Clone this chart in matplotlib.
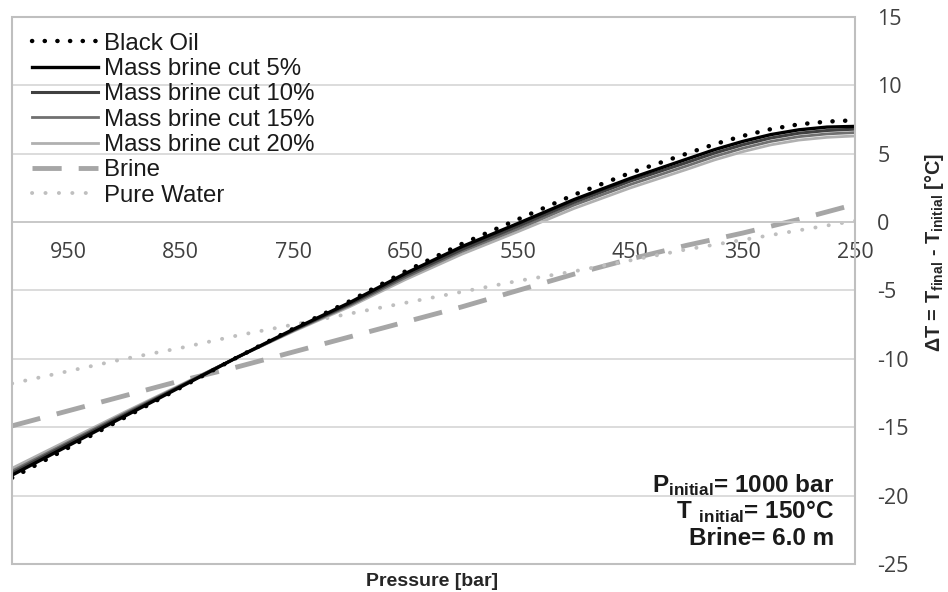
import matplotlib
matplotlib.use("Agg")
import matplotlib.pyplot as plt
from matplotlib.patches import Rectangle

plt.rcParams['font.family'] = ['Liberation Sans', 'DejaVu Sans']
plt.rcParams['mathtext.fontset'] = 'custom'
plt.rcParams['mathtext.rm'] = 'Liberation Sans'
plt.rcParams['mathtext.bf'] = 'Liberation Sans:bold'
plt.rcParams['axes.unicode_minus'] = False

# presión [bar] y ΔT [°C] para cada caso
presion = [1000, 950, 900, 850, 800, 750, 700, 650, 600, 550, 500, 450, 400, 375, 350, 325, 300, 275, 250]
black_oil = [-18.7, -16.5, -14.3, -12.1, -9.9, -7.8, -5.8, -3.6, -1.6, 0.2, 2.0, 3.6, 5.0, 5.7, 6.3, 6.8, 7.15, 7.35, 7.45]
corte_5 = [-18.5, -16.35, -14.2, -12.05, -9.9, -7.85, -5.9, -3.75, -1.8, -0.1, 1.65, 3.2, 4.6, 5.3, 5.9, 6.4, 6.75, 6.95, 7.0]
corte_10 = [-18.35, -16.2, -14.1, -12.0, -9.9, -7.9, -6.0, -3.9, -2.0, -0.3, 1.45, 3.0, 4.35, 5.05, 5.65, 6.15, 6.5, 6.7, 6.8]
corte_15 = [-18.2, -16.1, -14.0, -11.95, -9.9, -7.95, -6.1, -4.05, -2.15, -0.5, 1.25, 2.75, 4.1, 4.8, 5.4, 5.9, 6.25, 6.45, 6.55]
corte_20 = [-18.0, -15.95, -13.9, -11.9, -9.9, -8.0, -6.2, -4.2, -2.35, -0.7, 1.0, 2.5, 3.85, 4.55, 5.15, 5.65, 6.0, 6.2, 6.3]
salmuera = [-14.9, -13.8, -12.7, -11.6, -10.6, -9.5, -8.4, -7.3, -6.2, -5.0, -3.8, -2.7, -1.7, -1.25, -0.8, -0.3, 0.2, 0.75, 1.3]
agua_pura = [-11.8, -10.9, -10.0, -9.2, -8.3, -7.5, -6.7, -5.9, -5.1, -4.3, -3.6, -2.8, -2.0, -1.65, -1.3, -0.95, -0.6, -0.25, 0.1]

ticks_x = [950, 850, 750, 650, 550, 450, 350, 250]
ticks_y = [15, 10, 5, 0, -5, -10, -15, -20, -25]

fig = plt.figure(figsize=(9.48, 5.92), dpi=100)
ax = fig.add_axes([0.0127, 0.0473, 0.8893, 0.924])

gris_borde = '#bfbfbf'
for y in ticks_y:
    ax.axhline(y, color='#d9d9d9', lw=1.3, zorder=0)

ax.plot(presion, black_oil, color='black', lw=3.2, linestyle=(0, (0.05, 2.8)),
        dash_capstyle='round', label='Black Oil', zorder=6)
ax.plot(presion, corte_5, color='black', lw=2.4, label='Mass brine cut 5%', zorder=5)
ax.plot(presion, corte_10, color='#404040', lw=2.2, label='Mass brine cut 10%', zorder=4)
ax.plot(presion, corte_15, color='#707070', lw=2.0, label='Mass brine cut 15%', zorder=3)
ax.plot(presion, corte_20, color='#b0b0b0', lw=2.0, label='Mass brine cut 20%', zorder=2)
ax.plot(presion, salmuera, color='#a6a6a6', lw=3.5, linestyle=(0, (6, 3.5)),
        label='Brine', zorder=2)
ax.plot(presion, agua_pura, color='#bfbfbf', lw=2.8, linestyle=(0, (0.05, 3.4)),
        dash_capstyle='round', label='Pure Water', zorder=2)

ax.set_xlim(1000, 250)
ax.set_ylim(-25, 15)

# eje x cruzando en 0, marco completo del area de graficado
for lado in ['top', 'left', 'right']:
    ax.spines[lado].set_visible(False)
ax.spines['bottom'].set_position(('data', 0))
ax.spines['bottom'].set_color('#c8c8c8')
ax.spines['bottom'].set_linewidth(1.3)
ax.add_patch(Rectangle((0, 0), 1, 1, transform=ax.transAxes, fill=False,
                       edgecolor=gris_borde, lw=1.5, zorder=7, clip_on=False))

ax.set_xticks(ticks_x)
ax.set_xticklabels([str(t) for t in ticks_x])
ax.tick_params(axis='x', length=0, pad=14, labelsize=15.5, labelcolor='#404040')
for t in ax.get_xticklabels():
    t.set_fontfamily('Open Sans')

ax.yaxis.tick_right()
ax.set_yticks(ticks_y)
ax.set_yticklabels([str(t) for t in ticks_y])
ax.tick_params(axis='y', length=0, pad=16, labelsize=15.5, labelcolor='#404040')
for t in ax.get_yticklabels():
    t.set_fontfamily('Open Sans')
    t.set_horizontalalignment('left')

fig.text(935 / 948, 1 - 252 / 592,
         r'ΔT = $\mathbf{T_{final}}$ - $\mathbf{T_{initial}}$ [°C]',
         rotation=90, ha='center', va='center', fontsize=14.3, fontweight='bold',
         color='#262626')
fig.text(432 / 948, 1 - 582 / 592, 'Pressure [bar]', ha='center', va='center',
         fontsize=14, fontweight='bold', color='#262626')

ax.text(0.975, 0.145, r'$\mathbf{P_{initial}}$= 1000 bar', transform=ax.transAxes,
        ha='right', va='center', fontsize=17.5, fontweight='bold', color='#1a1a1a')
ax.text(0.975, 0.095, r'$\mathbf{T}\ {}_{\mathbf{initial}}$= 150°C', transform=ax.transAxes,
        ha='right', va='center', fontsize=17.5, fontweight='bold', color='#1a1a1a')
ax.text(0.975, 0.046, 'Brine= 6.0 m', transform=ax.transAxes,
        ha='right', va='center', fontsize=17.5, fontweight='bold', color='#1a1a1a')

ax.legend(loc='upper left', bbox_to_anchor=(0.005, 1.0), frameon=False, fontsize=17.3,
          handlelength=2.75, handletextpad=0.25, labelspacing=0.14,
          borderaxespad=0.25, labelcolor='#1a1a1a')

fig.savefig('out.png', dpi=100)
